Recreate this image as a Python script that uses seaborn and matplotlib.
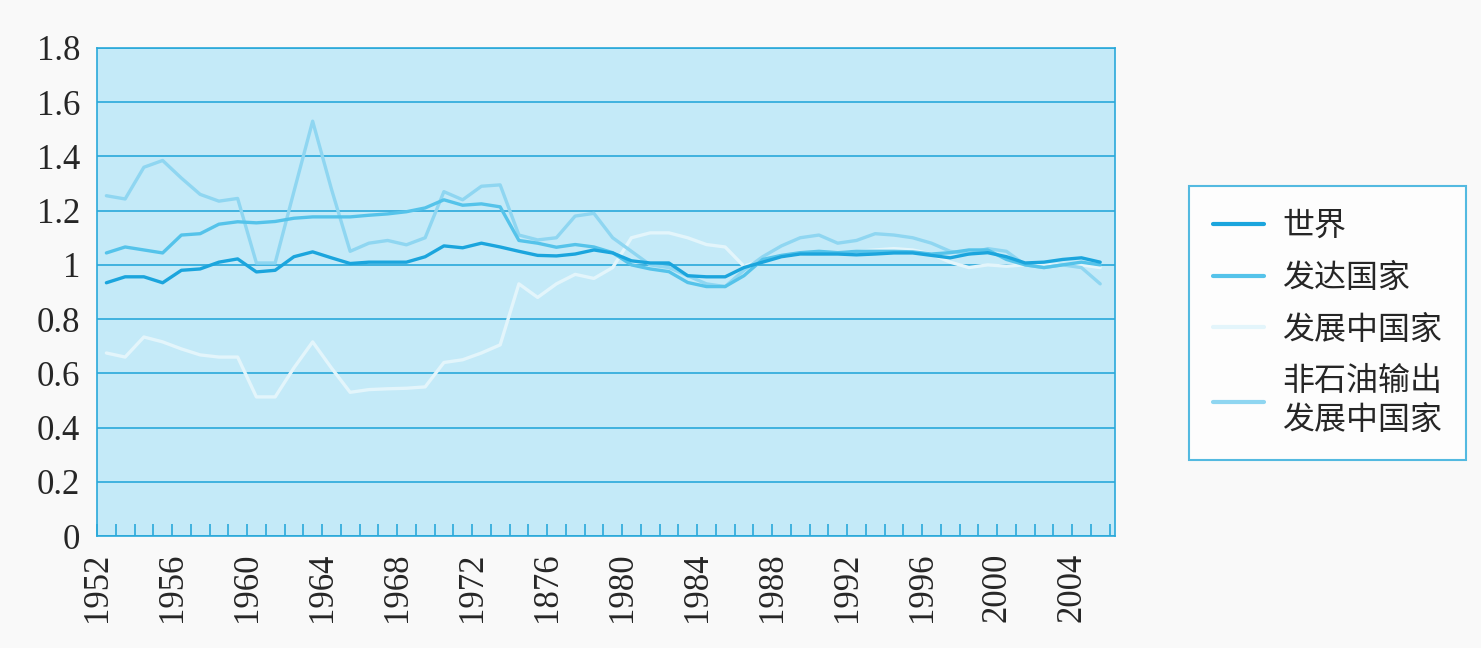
import seaborn as sns
import matplotlib.pyplot as plt
import pandas as pd
import numpy as np

# 年份 1952-2005
years = list(range(1952, 2006))

world = [0.934, 0.956, 0.956, 0.934, 0.98, 0.985, 1.01, 1.022, 0.974, 0.98,
         1.03, 1.048, 1.026, 1.005, 1.01, 1.01, 1.01, 1.03, 1.07, 1.063,
         1.08, 1.066, 1.05, 1.035, 1.033, 1.04, 1.055, 1.044, 1.015, 1.007,
         1.007, 0.96, 0.956, 0.956, 0.99, 1.01, 1.03, 1.04, 1.04, 1.04,
         1.037, 1.04, 1.044, 1.044, 1.035, 1.026, 1.04, 1.045, 1.03, 1.007,
         1.01, 1.02, 1.026, 1.01]

developed = [1.044, 1.066, 1.055, 1.044, 1.11, 1.115, 1.15, 1.159, 1.155, 1.16,
             1.172, 1.177, 1.177, 1.177, 1.183, 1.188, 1.196, 1.21, 1.24, 1.22,
             1.225, 1.214, 1.09, 1.08, 1.065, 1.075, 1.066, 1.045, 1.0, 0.985,
             0.975, 0.935, 0.92, 0.92, 0.96, 1.02, 1.035, 1.045, 1.05, 1.045,
             1.05, 1.05, 1.05, 1.048, 1.04, 1.045, 1.055, 1.055, 1.02, 1.0,
             0.99, 1.0, 1.01, 1.0]

developing = [0.675, 0.66, 0.734, 0.716, 0.69, 0.668, 0.66, 0.66, 0.513, 0.513,
              0.62, 0.716, 0.62, 0.53, 0.54, 0.543, 0.545, 0.55, 0.64, 0.65,
              0.675, 0.705, 0.93, 0.88, 0.93, 0.965, 0.95, 0.99, 1.1, 1.118,
              1.118, 1.1, 1.075, 1.066, 0.995, 1.018, 1.03, 1.04, 1.044, 1.045,
              1.05, 1.055, 1.06, 1.055, 1.04, 1.01, 0.99, 1.0, 0.995, 1.0,
              1.0, 1.0, 1.0, 0.99]

non_oil = [1.255, 1.243, 1.36, 1.385, 1.32, 1.26, 1.235, 1.245, 1.007, 1.007,
           1.27, 1.53, 1.28, 1.05, 1.08, 1.09, 1.074, 1.1, 1.27, 1.24,
           1.29, 1.295, 1.11, 1.092, 1.1, 1.18, 1.19, 1.1, 1.05, 1.0,
           0.99, 0.96, 0.93, 0.92, 0.98, 1.03, 1.07, 1.1, 1.11, 1.08,
           1.09, 1.115, 1.11, 1.1, 1.08, 1.05, 1.04, 1.06, 1.05, 1.0,
           0.99, 1.0, 0.99, 0.93]

series_names = ['世界', '发达国家', '发展中国家', '非石油输出\n发展中国家']
series_colors = ['#1ba5dd', '#55c3ea', '#e3f5fb', '#8fd6f1']

tick_years = [1952, 1956, 1960, 1964, 1968, 1972, 1976, 1980, 1984, 1988, 1992, 1996, 2000, 2004]
tick_labels = ['1952', '1956', '1960', '1964', '1968', '1972', '1876', '1980',
               '1984', '1988', '1992', '1996', '2000', '2004']

blue = '#2aa9da'

df = pd.DataFrame({'年份': years, series_names[0]: world, series_names[1]: developed,
                   series_names[2]: developing, series_names[3]: non_oil})
df = df.melt(id_vars='年份', var_name='类别', value_name='值')
# 点落在两个刻度之间
df['pos'] = df['年份'] + 0.5

sns.set_theme(style='white')
plt.rcParams['font.family'] = ['Liberation Serif', 'Noto Sans CJK SC']

fig = plt.figure(figsize=(14.81, 6.48), dpi=100, facecolor='#f9f9f9')
ax = fig.add_axes([0.0655, 0.1728, 0.6875, 0.7532])
ax.set_facecolor('#c4eaf8')

# 先画浅色, 深色在上
order = [2, 3, 1, 0]
for k in order:
    sub = df[df['类别'] == series_names[k]]
    sns.lineplot(data=sub, x='pos', y='值', ax=ax, color=series_colors[k],
                 linewidth=2.4, label=series_names[k], legend=False)

ax.set_xlim(1952, 2006.3)
ax.set_ylim(0, 1.8)
ax.set_yticks(np.arange(0, 1.81, 0.2))
ax.set_yticklabels(['0', '0.2', '0.4', '0.6', '0.8', '1', '1.2', '1.4', '1.6', '1.8'])
ax.set_xticks(tick_years)
ax.set_xticklabels(tick_labels, rotation=90)
ax.set_xticks(range(1952, 2007), minor=True)
ax.tick_params(axis='x', which='both', direction='in', length=9, width=1.2,
               color=blue, labelsize=25, pad=12, bottom=True)
ax.tick_params(axis='y', length=0, labelsize=25, pad=12)
ax.set_xlabel('')
ax.set_ylabel('')

ax.yaxis.grid(True, color=blue, linewidth=1.2)
ax.xaxis.grid(False)
for side in ['left', 'bottom', 'right', 'top']:
    ax.spines[side].set_color(blue)
    ax.spines[side].set_linewidth(1.2)

handles = [plt.Line2D([], [], color=series_colors[k], linewidth=3) for k in range(4)]
leg = fig.legend(handles, series_names, loc='upper left', bbox_to_anchor=(0.803, 0.713),
                 bbox_transform=fig.transFigure, borderaxespad=0, frameon=True,
                 fancybox=False, facecolor='white', edgecolor=blue,
                 prop={'family': ['Noto Sans CJK SC'], 'size': 23},
                 handlelength=1.6, labelspacing=0.62, borderpad=0.75, handletextpad=0.55)
leg.get_frame().set_linewidth(1.5)
for t in leg.get_texts():
    t.set_linespacing(1.25)

plt.savefig('out.png', dpi=100, facecolor=fig.get_facecolor())
